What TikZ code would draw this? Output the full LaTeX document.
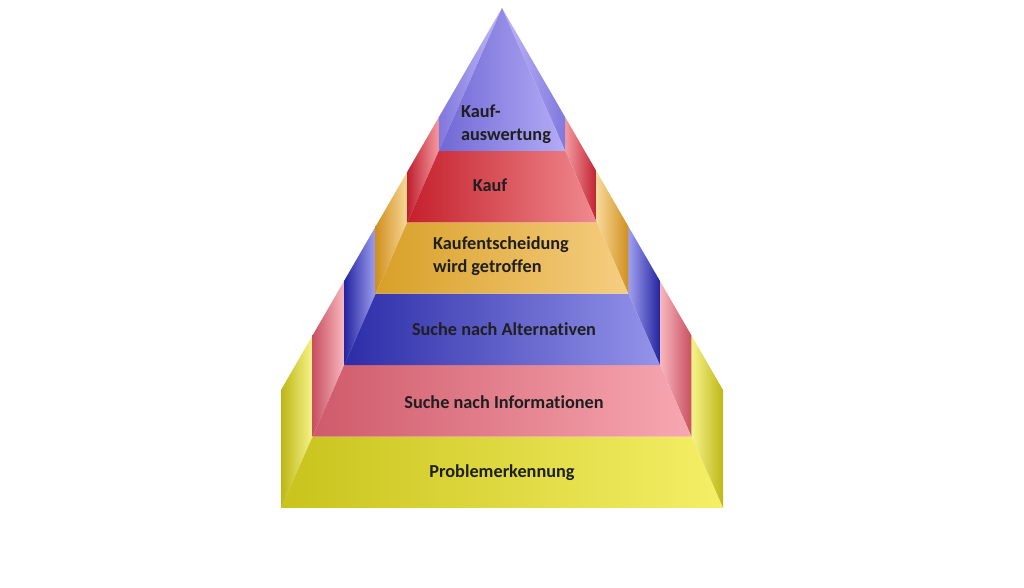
\documentclass[tikz,border=0pt]{standalone}
\usepackage{fontspec}
\setmainfont{Carlito}[Ligatures=NoCommon]
\usepackage{xcolor}
\usetikzlibrary{calc}

\definecolor{yelFL}{HTML}{C9C31C}\definecolor{yelFR}{HTML}{F4EF66}
\definecolor{yelSD}{HTML}{BDB715}\definecolor{yelSL}{HTML}{F7F38A}
\definecolor{pnkFL}{HTML}{CF5A6A}\definecolor{pnkFR}{HTML}{F7A8B2}
\definecolor{pnkSD}{HTML}{C85060}\definecolor{pnkSL}{HTML}{F8B8C0}
\definecolor{bluFL}{HTML}{2C2CA8}\definecolor{bluFR}{HTML}{9494EA}
\definecolor{bluSD}{HTML}{2424A0}\definecolor{bluSL}{HTML}{A0A0F0}
\definecolor{orgFL}{HTML}{D8A028}\definecolor{orgFR}{HTML}{F6CE82}
\definecolor{orgSD}{HTML}{D09020}\definecolor{orgSL}{HTML}{F8D898}
\definecolor{redFL}{HTML}{C4202C}\definecolor{redFR}{HTML}{F08A8E}
\definecolor{redSD}{HTML}{C02030}\definecolor{redSL}{HTML}{F49AA0}
\definecolor{purFL}{HTML}{7068D4}\definecolor{purFR}{HTML}{B4ACF6}
\definecolor{purSD}{HTML}{8078DC}\definecolor{purSL}{HTML}{C0B8F8}

\begin{document}
\begin{tikzpicture}[
    x=0.02cm, y=0.02cm,
    layertext/.style={font=\bfseries\fontsize{10.4}{12.8}\selectfont, align=left, text=black!88, inner sep=1pt}
]
\useasboundingbox (0,0) rectangle (1024,588);

% layers from bottom (0) to top (5); t runs from apex (0) to base (1)
\foreach \k/\clr in {0/yel, 1/pnk, 2/blu, 3/org, 4/red, 5/pur} {
  \pgfmathsetmacro{\tbot}{(7-\k)/7}
  \pgfmathsetmacro{\ttop}{ifthenelse(\k==5,0,(6-\k)/7)}
  % side bevels
  \shade[left color=\clr SD, right color=\clr SL]
    ({502-221*\tbot},{580-500*\tbot}) -- ({502-221*\tbot},{580-382*\tbot})
    -- ({502-221*\ttop},{580-382*\ttop}) -- ({502-221*\ttop},{580-500*\ttop}) -- cycle;
  \shade[left color=\clr SL, right color=\clr SD]
    ({502+221*\tbot},{580-500*\tbot}) -- ({502+221*\tbot},{580-382*\tbot})
    -- ({502+221*\ttop},{580-382*\ttop}) -- ({502+221*\ttop},{580-500*\ttop}) -- cycle;
  % front face
  \shade[left color=\clr FL, right color=\clr FR]
    ({502-221*\tbot},{580-500*\tbot}) -- ({502+221*\tbot},{580-500*\tbot})
    -- ({502+221*\ttop},{580-500*\ttop}) -- ({502-221*\ttop},{580-500*\ttop}) -- cycle;
}

\node[layertext] (problem) at (502,115) {Problemerkennung};
\node[layertext] (info) at (504,186) {Suche nach Informationen};
\node[layertext] (alternatives) at (504,259) {Suche nach Alternativen};
\node[layertext] (decision) at (501,332) {Kaufentscheidung\\wird getroffen};
\node[layertext] (purchase) at (490,403) {Kauf};
\node[layertext] (review) at (506,464) {Kauf-\\auswertung};

\end{tikzpicture}
\end{document}
